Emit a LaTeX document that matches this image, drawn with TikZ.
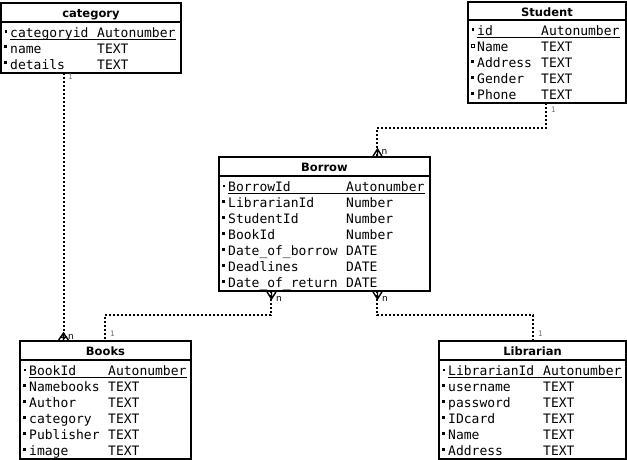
\documentclass[tikz,border=0pt]{standalone}
\usepackage{fontspec}
\setmainfont{DejaVu Sans}
\setmonofont{DejaVu Sans Mono}
\begin{document}
\begin{tikzpicture}[x=1pt,y=-1pt,
  tbl/.style={draw, line width=2pt, anchor=north west, inner sep=0pt, outer sep=0pt},
  ttl/.style={font=\fontsize{11.5}{12}\selectfont\bfseries, anchor=base, inner sep=0pt, yshift=-0.8pt},
  fld/.style={font=\fontsize{13}{16}\selectfont\ttfamily, anchor=base west, inner sep=0pt, yshift=-1pt},
  rel/.style={line width=2pt, dash pattern=on 2pt off 2pt},
  onelbl/.style={font=\fontsize{7.5}{8}\selectfont, text=black!55, anchor=base west, inner sep=0pt},
  manylbl/.style={font=\fontsize{9}{10}\selectfont, anchor=base west, inner sep=0pt},
  foot/.style={line width=1.4pt},
  keyline/.style={line width=1.1pt, yshift=-1pt},
  fdot/.style={fill=black},
  odot/.style={draw=black, line width=0.6pt, fill=white}
]
\useasboundingbox (0,0) rectangle (627,460);

% ---------- category ----------
\node[tbl, minimum width=180pt, minimum height=70pt] (category) at (1,3) {};
\draw[line width=2pt] (1,22) -- (181,22);
\node[ttl] (categoryT) at (91,17) {category};
\node[fld] (c1) at (10,36.5) {categoryid};
\node[fld] (c1t) at (97,36.5) {Autonumber};
\draw[keyline] (10,38.5) -- (175.5,38.5);
\node[fld] (c2) at (10,52.5) {name};
\node[fld] (c2t) at (97,52.5) {TEXT};
\node[fld] (c3) at (10,68.5) {details};
\node[fld] (c3t) at (97,68.5) {TEXT};
\fill[fdot] (4.5,30.5) rectangle +(2.5,2.5);
\fill[fdot] (4,45) rectangle +(3,3);
\fill[fdot] (4,61) rectangle +(3,3);

% ---------- Student ----------
\node[tbl, minimum width=158pt, minimum height=101pt] (Student) at (468,2) {};
\draw[line width=2pt] (468,20.5) -- (626,20.5);
\node[ttl] (StudentT) at (547,16) {Student};
\node[fld] (s1) at (477,34.5) {id};
\node[fld] (s1t) at (541,34.5) {Autonumber};
\draw[keyline] (477,36.5) -- (620,36.5);
\node[fld] (s2) at (477,50.5) {Name};
\node[fld] (s2t) at (541,50.5) {TEXT};
\node[fld] (s3) at (477,66.5) {Address};
\node[fld] (s3t) at (541,66.5) {TEXT};
\node[fld] (s4) at (477,82.5) {Gender};
\node[fld] (s4t) at (541,82.5) {TEXT};
\node[fld] (s5) at (477,98.5) {Phone};
\node[fld] (s5t) at (541,98.5) {TEXT};
\fill[fdot] (471.5,28.5) rectangle +(2.5,2.5);
\draw[odot] (471.5,44.5) rectangle +(3,3);
\fill[fdot] (471,60.5) rectangle +(3,3);
\fill[fdot] (471,76.5) rectangle +(3,3);
\fill[fdot] (471,92.5) rectangle +(3,3);

% ---------- Borrow ----------
\node[tbl, minimum width=211pt, minimum height=134pt] (Borrow) at (219,157) {};
\draw[line width=2pt] (219,176) -- (430,176);
\node[ttl] (BorrowT) at (324.5,171) {Borrow};
\node[fld] (b1) at (228,190.5) {BorrowId};
\node[fld] (b1t) at (346,190.5) {Autonumber};
\draw[keyline] (228,192.5) -- (424.5,192.5);
\node[fld] (b2) at (228,206.5) {LibrarianId};
\node[fld] (b2t) at (346,206.5) {Number};
\node[fld] (b3) at (228,222.5) {StudentId};
\node[fld] (b3t) at (346,222.5) {Number};
\node[fld] (b4) at (228,238.5) {BookId};
\node[fld] (b4t) at (346,238.5) {Number};
\node[fld] (b5) at (228,254.5) {Date\_of\_borrow};
\node[fld] (b5t) at (346,254.5) {DATE};
\node[fld] (b6) at (228,270.5) {Deadlines};
\node[fld] (b6t) at (346,270.5) {DATE};
\node[fld] (b7) at (228,286.5) {Date\_of\_return};
\node[fld] (b7t) at (346,286.5) {DATE};
\fill[fdot] (222.5,184.5) rectangle +(2.5,2.5);
\foreach \yy in {200,216,232,248,264,280} {\fill[fdot] (222,\yy) rectangle +(3,3);}

% ---------- Books ----------
\node[tbl, minimum width=171pt, minimum height=118pt] (Books) at (20,341) {};
\draw[line width=2pt] (20,360) -- (191,360);
\node[ttl] (BooksT) at (105.5,355) {Books};
\node[fld] (k1) at (29,374.5) {BookId};
\node[fld] (k1t) at (108,374.5) {Autonumber};
\draw[keyline] (29,376.5) -- (186.5,376.5);
\node[fld] (k2) at (29,390.5) {Namebooks};
\node[fld] (k2t) at (108,390.5) {TEXT};
\node[fld] (k3) at (29,406.5) {Author};
\node[fld] (k3t) at (108,406.5) {TEXT};
\node[fld] (k4) at (29,422.5) {category};
\node[fld] (k4t) at (108,422.5) {TEXT};
\node[fld] (k5) at (29,438.5) {Publisher};
\node[fld] (k5t) at (108,438.5) {TEXT};
\node[fld] (k6) at (29,454.5) {image};
\node[fld] (k6t) at (108,454.5) {TEXT};
\fill[fdot] (23.5,368.5) rectangle +(2.5,2.5);
\foreach \yy in {384,400,416,432,448} {\fill[fdot] (23,\yy) rectangle +(3,3);}

% ---------- Librarian ----------
\node[tbl, minimum width=187pt, minimum height=118pt] (Librarian) at (439,341) {};
\draw[line width=2pt] (439,360) -- (626,360);
\node[ttl] (LibrarianT) at (532.5,355) {Librarian};
\node[fld] (l1) at (448,374.5) {LibrarianId};
\node[fld] (l1t) at (543,374.5) {Autonumber};
\draw[keyline] (448,376.5) -- (621.5,376.5);
\node[fld] (l2) at (448,390.5) {username};
\node[fld] (l2t) at (543,390.5) {TEXT};
\node[fld] (l3) at (448,406.5) {password};
\node[fld] (l3t) at (543,406.5) {TEXT};
\node[fld] (l4) at (448,422.5) {IDcard};
\node[fld] (l4t) at (543,422.5) {TEXT};
\node[fld] (l5) at (448,438.5) {Name};
\node[fld] (l5t) at (543,438.5) {TEXT};
\node[fld] (l6) at (448,454.5) {Address};
\node[fld] (l6t) at (543,454.5) {TEXT};
\fill[fdot] (442.5,368.5) rectangle +(2.5,2.5);
\foreach \yy in {384,400,416,432,448} {\fill[fdot] (442,\yy) rectangle +(3,3);}

% ---------- relations ----------
% category -> Books
\coordinate (catA) at ([xshift=63pt]category.south west);
\coordinate (bookA) at ([xshift=43pt]Books.north west);
\draw[rel] (catA) -- (catA |- bookA);
\draw[foot] (58,341) -- (63.5,333) -- (69,341) (63.5,333) -- (63.5,341) (60,337.5) -- (67,337.5);
\node[onelbl] (catOne) at (68,80) {1};
\node[manylbl] (bookMany) at (68,339) {n};

% Student -> Borrow
\coordinate (stuA) at ([xshift=78pt]Student.south west);
\coordinate (borA) at ([xshift=158pt]Borrow.north west);
\draw[rel] (stuA) -- ++(0,25) -| (borA);
\draw[foot] (372.5,157) -- (377.5,149) -- (382.5,157) (377.5,149) -- (377.5,157);
\node[onelbl] (stuOne) at (551,113) {1};
\node[manylbl] (borMany1) at (381.5,154) {n};

% Borrow -> Books
\coordinate (borB) at ([xshift=52pt]Borrow.south west);
\coordinate (bookB) at ([xshift=85pt]Books.north west);
\draw[rel] (borB) -- ++(0,24) -| (bookB);
\draw[foot] (266.5,291) -- (271.5,299) -- (276.5,291) (271.5,291) -- (271.5,299);
\node[manylbl] (borMany2) at (276,301) {n};
\node[onelbl] (bookOne) at (110,336) {1};

% Borrow -> Librarian
\coordinate (borC) at ([xshift=158pt]Borrow.south west);
\coordinate (libA) at ([xshift=94pt]Librarian.north west);
\draw[rel] (borC) -- ++(0,24) -| (libA);
\draw[foot] (372.5,291) -- (377.5,299) -- (382.5,291) (377.5,291) -- (377.5,299);
\node[manylbl] (borMany3) at (382,301) {n};
\node[onelbl] (libOne) at (538,336) {1};
\end{tikzpicture}
\end{document}
